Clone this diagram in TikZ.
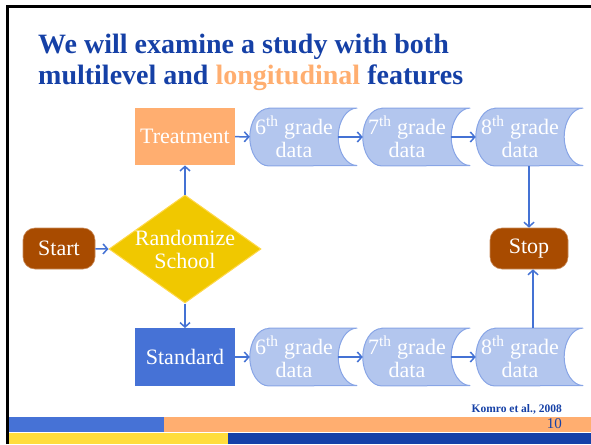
\documentclass[tikz,border=0pt]{standalone}
\usepackage{fontspec}
\setmainfont{Liberation Serif}
\usetikzlibrary{shapes.geometric,arrows.meta,backgrounds,calc}
\definecolor{titleblue}{HTML}{1540A6}
\definecolor{lorange}{HTML}{FFAE70}
\definecolor{midblue}{HTML}{4672D6}
\definecolor{datafill}{HTML}{B3C6EE}
\definecolor{dataedge}{HTML}{88A5E6}
\definecolor{termbrown}{HTML}{A84B00}
\definecolor{termedge}{HTML}{C98A5A}
\definecolor{diayellow}{HTML}{F0C800}
\definecolor{diaedge}{HTML}{FFD84A}
\definecolor{baryellow}{HTML}{FFDD3C}
\definecolor{bardark}{HTML}{1540A8}
\definecolor{arrowblue}{HTML}{4472D4}
\newcommand\datashape[1]{%
  \path[fill=datafill,draw=dataedge,line width=1pt]
    ([xshift=19pt]#1.north west) -- ([xshift=19pt]#1.north east)
    arc[start angle=90,end angle=270,x radius=19pt,y radius=28.75pt]
    -- ([xshift=19pt]#1.south west)
    arc[start angle=270,end angle=90,x radius=19pt,y radius=28.75pt] -- cycle;}
\begin{document}
\begin{tikzpicture}[x=1pt,y=-1pt,
  bodyfont/.style={font=\fontsize{22}{23}\selectfont},
  boxnode/.style={bodyfont,minimum width=100pt,minimum height=57.5pt,inner sep=0pt,text=white},
  datanode/.style={bodyfont,minimum width=88pt,minimum height=57.5pt,inner sep=0pt,text=white,align=center},
  termnode/.style={bodyfont,rounded corners=12pt,fill=termbrown,draw=termedge,line width=0.6pt,minimum height=41pt,inner sep=0pt,text=white},
  conn/.style={draw=arrowblue,line width=1.5pt,-{Straight Barb[length=4.5pt,width=10pt]}},
  titlefont/.style={font=\fontsize{28}{30}\selectfont\bfseries,text=titleblue,inner sep=0pt,anchor=base west}]
\useasboundingbox (0,0) rectangle (591,444);
% frame and bars
\draw[line width=3pt] (7.5,444) -- (7.5,7) -- (591,7);
\fill[midblue] (9,417) rectangle (164,432);
\fill[lorange] (164,417) rectangle (591,432);
\fill[baryellow] (9,433.3) rectangle (228,444);
\fill[bardark] (228,433.3) rectangle (591,444);
% title
\node[titlefont] (title1) at (38,53) {We will examine a study with both};
\node[titlefont] (title2) at (38,84) {multilevel and \textcolor{lorange}{longitudinal} features};
% nodes
\node[boxnode,fill=lorange] (treat) at (185,136.5) {Treatment};
\node[boxnode,fill=midblue] (std) at (185,357) {Standard};
\node[datanode] (t6) at (294,137) {6\textsuperscript{th} grade\\data};
\node[datanode] (t7) at (407,137) {7\textsuperscript{th} grade\\data};
\node[datanode] (t8) at (520,137) {8\textsuperscript{th} grade\\data};
\node[datanode] (s6) at (294,357) {6\textsuperscript{th} grade\\data};
\node[datanode] (s7) at (407,357) {7\textsuperscript{th} grade\\data};
\node[datanode] (s8) at (520,357) {8\textsuperscript{th} grade\\data};
\begin{scope}[on background layer]
\datashape{t6}\datashape{t7}\datashape{t8}
\datashape{s6}\datashape{s7}\datashape{s8}
\end{scope}
\node[termnode,minimum width=72pt] (start) at (59,248.5) {Start};
\node[termnode,minimum width=78pt] (stop) at (529,248.5) {Stop};
\node[diamond,fill=diayellow,draw=diaedge,line width=1pt,minimum width=152pt,minimum height=108pt,inner sep=0pt] (rand) at (185,249) {};
\node[bodyfont,text=white,align=center,inner sep=0pt] (randtext) at (rand.center) {Randomize\\School};
\coordinate (stopin) at ([xshift=4pt]stop.south);
% connectors
\draw[conn] (start) -- (rand.west);
\draw[conn] (rand.north) -- (treat.south);
\draw[conn] (rand.south) -- (std.north);
\draw[conn] (treat) -- (t6);
\draw[conn] (t6) -- (t7);
\draw[conn] (t7) -- (t8);
\draw[conn] (std) -- (s6);
\draw[conn] (s6) -- (s7);
\draw[conn] (s7) -- (s8);
\draw[conn] (t8.south -| stop.north) -- (stop.north);
\draw[conn] (s8.north -| stopin) -- (stopin);
% footer texts
\node[anchor=base east,inner sep=0pt,text=titleblue,font=\fontsize{11.5}{13}\selectfont\bfseries] (cite) at (562,412) {Komro et al., 2008};
\node[anchor=base east,inner sep=0pt,text=titleblue,font=\fontsize{15}{17}\selectfont] (pagenum) at (562,428) {10};
\end{tikzpicture}
\end{document}
